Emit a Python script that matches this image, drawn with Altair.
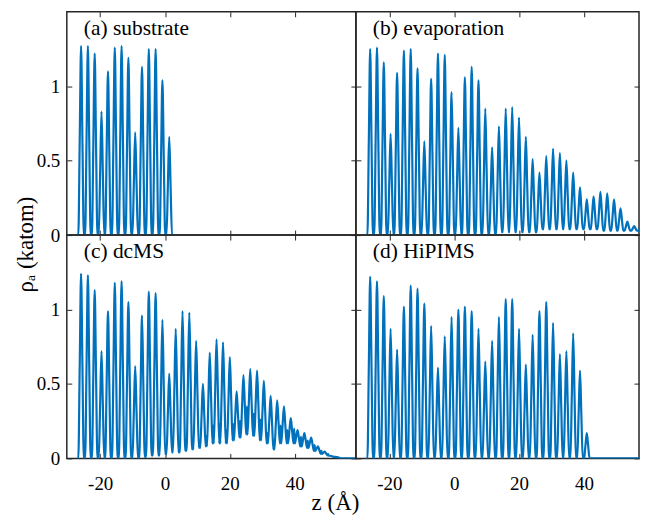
import altair as alt
import pandas as pd

# ---------------- data ----------------
z_sites = [-25.9, -23.8, -21.7, -19.6, -17.6, -15.5, -13.4, -11.3, -9.2, -7.1,
           -5.0, -2.9, -0.8, 1.3, 3.3, 5.4, 7.5, 9.6, 11.7, 13.8,
           15.9, 17.9, 20.0, 22.1, 24.2, 26.3, 28.4, 30.5, 32.6, 34.6,
           36.7, 38.8, 40.9, 43.0, 45.1, 47.2, 49.3, 51.3, 53.4, 55.5, 57.6]

a_peak = [1.27, 1.27, 1.22, 0.83, 1.10, 1.26, 1.27, 1.19, 0.69, 1.13, 1.25, 1.25, 1.04, 0.66]
a_floor = [0, 0, 0, 0, 0, 0, 0, 0, 0, 0, 0, 0, 0]
a_mid = [0, 0, 0, 0, 0, 0, 0, 0, 0, 0, 0, 0, 0]

b_peak = [1.25, 1.26, 1.16, 0.68, 1.09, 1.24, 1.25, 1.12, 0.63, 1.05,
          1.22, 1.21, 0.96, 0.72, 1.06, 1.13, 1.04, 0.85, 0.59, 0.73,
          0.85, 0.86, 0.79, 0.66, 0.51, 0.42, 0.53, 0.58, 0.55, 0.50,
          0.42, 0.32, 0.24, 0.26, 0.29, 0.28, 0.24, 0.18, 0.09, 0.06, 0.05]
b_floor = [0, 0, 0, 0, 0, 0, 0, 0, 0, 0, 0, 0, 0, 0, 0, 0, 0, 0, 0,
           0.02, 0.02, 0.02, 0.02, 0.02, 0.02,
           0.04, 0.04, 0.04, 0.04, 0.04, 0.04, 0.04, 0.04, 0.04,
           0.03, 0.03, 0.03, 0.03, 0.03, 0.03]
b_mid = b_floor

c_peak = [1.24, 1.23, 1.13, 0.72, 0.99, 1.18, 1.19, 1.05, 0.62, 0.96,
          1.12, 1.11, 0.93, 0.57, 0.87, 0.99, 0.98, 0.79, 0.50, 0.71,
          0.80, 0.78, 0.68, 0.45, 0.56, 0.60, 0.59, 0.52, 0.42, 0.39,
          0.35, 0.27, 0.19, 0.17, 0.14, 0.08, 0.045, 0.016, 0.007]
c_floor = [0, 0, 0, 0, 0, 0, 0, 0, 0, 0.01, 0.02, 0.02, 0.03, 0.04, 0.04, 0.05, 0.06, 0.07, 0.08,
           0.10, 0.10, 0.10, 0.12, 0.14, 0.16, 0.15, 0.12, 0.10, 0.06, 0.10, 0.10, 0.10,
           0.08, 0.07, 0.05, 0.03, 0.02, 0.01]
c_mid = [0, 0, 0, 0, 0, 0, 0, 0, 0, 0.01, 0.02, 0.03, 0.04, 0.05, 0.07, 0.08, 0.10, 0.12, 0.15,
         0.22, 0.23, 0.19, 0.23, 0.25, 0.35, 0.30, 0.26, 0.17, 0.12, 0.22, 0.19, 0.20,
         0.145, 0.12, 0.09, 0.05, 0.03, 0.01]

d_peak = [1.22, 1.19, 1.09, 0.87, 0.73, 1.02, 1.16, 1.14, 1.04, 0.89,
          0.61, 0.82, 0.95, 1.00, 1.02, 0.99, 0.87, 0.65, 0.79, 0.95,
          1.07, 1.07, 0.87, 0.63, 0.83, 0.99, 1.05, 0.91, 0.70, 0.72,
          0.84, 0.59, 0.17]
d_floor = [0] * 32
d_mid = [0] * 32

z_start = -27.0
z_end = {"a": 3.0, "b": 59.5, "c": 59.5, "d": 59.5}

labels = {"a": "(a) substrate", "b": "(b) evaporation", "c": "(c) dcMS", "d": "(d) HiPIMS"}
x_ticks = [-20, 0, 20, 40]
y_ticks = [0, 0.5, 1]

BLUE = "#0072BD"
AX = "#262626"
FONT = "Liberation Serif"
H = 224
W_LEFT, XDOM_LEFT = 290, [-30.3, 58.9]
W_RIGHT, XDOM_RIGHT = 284, [-30.3, 57.0]
YDOM = [0, 1.5]
HALF = 0.42
BASE = 0.85


def profile(peaks, floors, mids, zend):
    pts = [(z_start, 0.0)]
    n = len(peaks)
    for k in range(n):
        p, h = z_sites[k], peaks[k]
        lo_l = floors[k - 1] if k > 0 else 0.0
        lo_r = floors[k] if k < n - 1 else 0.0
        pts += [(p - BASE, lo_l), (p - HALF, (h + lo_l) / 2), (p, h),
                (p + HALF, (h + lo_r) / 2), (p + BASE, lo_r)]
        if k < n - 1:
            pts.append(((p + z_sites[k + 1]) / 2, mids[k]))
    pts.append((zend, 0.0))
    return pd.DataFrame(pts, columns=["z", "rho"])


def axis(orient, values, show_labels, offset=-5, **kw):
    base = dict(orient=orient, values=values, labels=show_labels, domain=False,
                offset=offset, tickSize=5, tickColor=AX, tickWidth=1, grid=False,
                labelFont=FONT, labelFontSize=19, labelColor="black",
                labelExpr="'' + datum.value",
                titleFont=FONT, titleFontSize=23, titleFontWeight="normal",
                titleColor="black")
    base.update(kw)
    return alt.Axis(**base)


def panel(key, peaks, floors, mids, xlab, ylab, width, xdom, xtitle=False, ytitle=False):
    df = profile(peaks, floors, mids, z_end[key])
    xs = alt.Scale(domain=xdom, nice=False, zero=False)
    ys = alt.Scale(domain=YDOM, nice=False)
    xb_kw = dict(labelPadding=16)
    if xtitle:
        xb_kw.update(title="z (Å)", titleX=269, titleY=56, titleAlign="center",
                     titleBaseline="alphabetic")
    yl_kw = dict(labelPadding=7)
    if ytitle:
        yl_kw.update(title="ρₐ (katom)", titleX=-46, titleY=233, titleAngle=270,
                     titleAlign="center", titleBaseline="middle")
    line = alt.Chart(df).mark_line(color=BLUE, strokeWidth=2.2, interpolate="monotone", clip=True)
    l1 = line.encode(
        x=alt.X("z:Q", scale=xs, axis=axis("bottom", x_ticks, xlab, **xb_kw),
                title="z (Å)" if xtitle else None),
        y=alt.Y("rho:Q", scale=ys, axis=axis("left", y_ticks, ylab, **yl_kw),
                title="ρₐ (katom)" if ytitle else None),
    )
    # inward ticks on the top and right edges of the box
    l2 = alt.Chart(df).mark_line(strokeOpacity=0, interpolate="monotone", clip=True).encode(
        x=alt.X("z:Q", scale=xs, axis=axis("bottom", x_ticks, False, offset=-H), title=None),
        y=alt.Y("rho:Q", scale=ys, axis=axis("left", y_ticks, False, offset=-width), title=None),
    )
    txt = alt.Chart(pd.DataFrame({"t": [labels[key]]})).mark_text(
        align="left", baseline="alphabetic", font=FONT, fontSize=21.5, color="black"
    ).encode(x=alt.value(17), y=alt.value(23), text="t:N")
    return alt.layer(l1, l2, txt).resolve_axis(x="independent", y="independent").properties(
        width=width, height=H)


pa = panel("a", a_peak, a_floor, a_mid, False, True, W_LEFT, XDOM_LEFT, ytitle=True)
pb = panel("b", b_peak, b_floor, b_mid, False, False, W_RIGHT, XDOM_RIGHT)
pc = panel("c", c_peak, c_floor, c_mid, True, True, W_LEFT, XDOM_LEFT, xtitle=True)
pd_ = panel("d", d_peak, d_floor, d_mid, True, False, W_RIGHT, XDOM_RIGHT)

chart = alt.concat(pa, pb, pc, pd_, columns=2, spacing=0, bounds="flush", align="each").properties(
    padding={"top": 1, "left": 6, "right": 0, "bottom": 0}
).configure_view(stroke=AX, strokeWidth=1.5).configure_axis(
    labelFont=FONT, titleFont=FONT
).configure_text(font=FONT)

chart.save("out.html", embed_options={"renderer": "svg", "actions": False})
